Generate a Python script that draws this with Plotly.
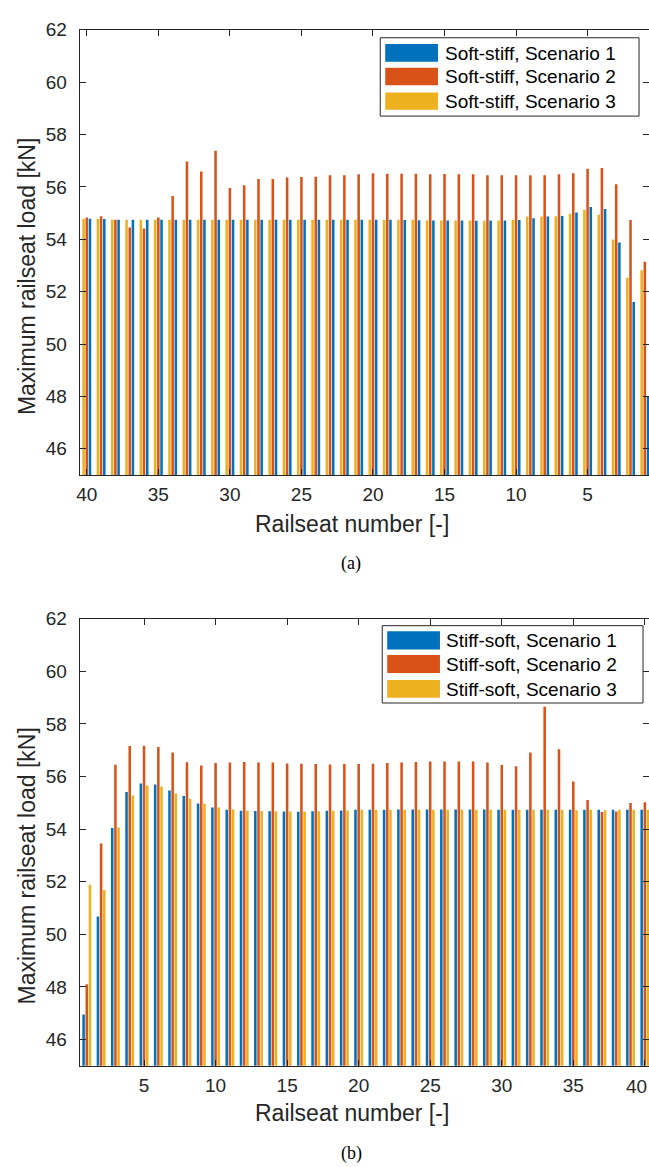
import plotly.graph_objects as go

# Railseat positions along the track
railseats = list(range(1, 41))

# Soft-stiff transition, maximum railseat load [kN] for railseats 1..40
soft_stiff_s1 = [48.00, 51.61, 53.88, 55.16, 55.23, 55.02, 54.89, 54.87, 54.80, 54.74,
                 54.72, 54.72, 54.71, 54.72, 54.72, 54.72, 54.73, 54.74, 54.75, 54.75,
                 54.75, 54.75, 54.75, 54.75, 54.75, 54.75, 54.75, 54.75, 54.75, 54.75,
                 54.75, 54.75, 54.75, 54.75, 54.75, 54.75, 54.75, 54.75, 54.78, 54.79]
soft_stiff_s2 = [53.14, 54.74, 56.10, 56.72, 56.69, 56.52, 56.48, 56.45, 56.45, 56.45,
                 56.45, 56.45, 56.48, 56.48, 56.49, 56.48, 56.50, 56.50, 56.50, 56.52,
                 56.48, 56.45, 56.45, 56.39, 56.38, 56.36, 56.30, 56.30, 56.06, 55.96,
                 57.38, 56.59, 56.97, 55.65, 54.83, 54.41, 54.45, 54.75, 54.88, 54.83]
soft_stiff_s3 = [52.82, 52.53, 53.99, 54.94, 55.13, 54.98, 54.88, 54.87, 54.87, 54.74,
                 54.72, 54.71, 54.72, 54.72, 54.72, 54.72, 54.75, 54.75, 54.75, 54.75,
                 54.75, 54.75, 54.75, 54.75, 54.75, 54.75, 54.75, 54.75, 54.75, 54.75,
                 54.75, 54.75, 54.75, 54.75, 54.75, 54.75, 54.75, 54.75, 54.78, 54.79]

# Stiff-soft transition, maximum railseat load [kN] for railseats 1..40
stiff_soft_s1 = [46.95, 50.68, 54.04, 55.41, 55.74, 55.70, 55.47, 55.26, 54.98, 54.82,
                 54.74, 54.70, 54.69, 54.68, 54.67, 54.66, 54.68, 54.70, 54.71, 54.74,
                 54.74, 54.74, 54.75, 54.75, 54.75, 54.75, 54.75, 54.75, 54.75, 54.74,
                 54.74, 54.74, 54.74, 54.74, 54.74, 54.74, 54.74, 54.74, 54.74, 54.74]
stiff_soft_s2 = [48.10, 53.45, 56.45, 57.16, 57.17, 57.12, 56.91, 56.54, 56.42, 56.52,
                 56.53, 56.55, 56.53, 56.53, 56.50, 56.49, 56.48, 56.46, 56.48, 56.48,
                 56.49, 56.52, 56.53, 56.55, 56.57, 56.57, 56.57, 56.57, 56.53, 56.44,
                 56.39, 56.91, 58.65, 57.04, 55.81, 55.11, 54.65, 54.67, 54.99, 55.02]
stiff_soft_s3 = [51.89, 51.69, 54.06, 55.28, 55.66, 55.62, 55.36, 55.16, 54.97, 54.82,
                 54.75, 54.70, 54.69, 54.68, 54.67, 54.66, 54.68, 54.70, 54.71, 54.74,
                 54.74, 54.74, 54.74, 54.74, 54.74, 54.74, 54.74, 54.74, 54.74, 54.74,
                 54.74, 54.74, 54.74, 54.74, 54.72, 54.74, 54.72, 54.74, 54.74, 54.74]

top_names = ["Soft-stiff, Scenario 1", "Soft-stiff, Scenario 2", "Soft-stiff, Scenario 3"]
bottom_names = ["Stiff-soft, Scenario 1", "Stiff-soft, Scenario 2", "Stiff-soft, Scenario 3"]
colors = ["#0072BD", "#D95319", "#EDB120"]

y_ticks = [46, 48, 50, 52, 54, 56, 58, 60, 62]
x_ticks = [5, 10, 15, 20, 25, 30, 35, 40]
x_labels = ["5", "10", "15", "20", "25", "30", "35", "40"]

W, H = 649, 1167
AX = "#262626"
FONT = "Liberation Sans, Arial, sans-serif"


def px(x):
    return x / W


def py(y):
    return 1 - y / H


fig = go.Figure()

for vals, name, col in zip([soft_stiff_s1, soft_stiff_s2, soft_stiff_s3], top_names, colors):
    fig.add_trace(go.Bar(x=railseats, y=vals, name=name, marker_color=col,
                         marker_line_width=0, xaxis="x", yaxis="y", showlegend=False))
for vals, name, col in zip([stiff_soft_s1, stiff_soft_s2, stiff_soft_s3], bottom_names, colors):
    fig.add_trace(go.Bar(x=railseats, y=vals, name=name, marker_color=col,
                         marker_line_width=0, xaxis="x2", yaxis="y2", showlegend=False))

axis_common = dict(
    showline=True, linecolor=AX, linewidth=1, ticks="inside", ticklen=6,
    tickcolor=AX, tickwidth=1, showgrid=False, zeroline=False,
    tickfont=dict(family=FONT, size=19, color=AX),
)

x_dom = [px(77), 1.0]
top_dom = [py(469), py(20)]
bot_dom = [py(1065), py(614)]

# On the lower panel the last label sits on the page edge; it is written
# separately below so it stays inside the page.
bottom_ticktext = x_labels[:-1] + [""]

fig.update_layout(
    width=W, height=H, margin=dict(l=0, r=0, t=0, b=0),
    paper_bgcolor="white", plot_bgcolor="white",
    barmode="group", bargap=1 / 3, bargroupgap=0.2,
    xaxis=dict(axis_common, domain=x_dom, anchor="y", range=[40.5, 0.5 + 3 / 14.38],
               tickvals=x_ticks, ticktext=x_labels, mirror="ticks", ticklabelstandoff=2),
    yaxis=dict(axis_common, domain=top_dom, anchor="x", range=[45, 62],
               tickvals=y_ticks, ticklabelstandoff=8),
    yaxis3=dict(axis_common, domain=top_dom, anchor="x", overlaying="y", side="right",
                range=[45, 62], tickvals=y_ticks, showline=False, showticklabels=False),
    xaxis2=dict(axis_common, domain=x_dom, anchor="y2", range=[0.5, 40.5 - 3 / 14.33],
                tickvals=x_ticks, ticktext=bottom_ticktext, mirror="ticks",
                ticklabelstandoff=2),
    yaxis2=dict(axis_common, domain=bot_dom, anchor="x2", range=[45, 62],
                tickvals=y_ticks, ticklabelstandoff=8),
    yaxis4=dict(axis_common, domain=bot_dom, anchor="x2", overlaying="y2", side="right",
                range=[45, 62], tickvals=y_ticks, showline=False, showticklabels=False),
)

# Invisible traces so the mirrored right-hand tick axes get drawn
fig.add_trace(go.Scatter(x=[None], y=[None], xaxis="x", yaxis="y3", showlegend=False,
                         hoverinfo="skip"))
fig.add_trace(go.Scatter(x=[None], y=[None], xaxis="x2", yaxis="y4", showlegend=False,
                         hoverinfo="skip"))

shapes = []
annotations = []

# Last tick label of the lower panel, flush with the right page edge
annotations.append(dict(text=x_labels[-1], x=1.0, y=py(1086), xref="paper", yref="paper",
                        showarrow=False, xanchor="right", yanchor="middle",
                        font=dict(family=FONT, size=19, color=AX)))

# Axis titles and panel captions
for cy_title, cy_x, cy_cap, cap in [(268.5, 518, 558, "(a)"), (863, 1113, 1153, "(b)")]:
    annotations.append(dict(text="Maximum railseat load [kN]", x=px(24), y=py(cy_title),
                            xref="paper", yref="paper", textangle=-90, showarrow=False,
                            xanchor="center", yanchor="middle",
                            font=dict(family=FONT, size=23, color=AX)))
    annotations.append(dict(text="Railseat number [-]", x=px(351), y=py(cy_x),
                            xref="paper", yref="paper", showarrow=False,
                            xanchor="center", yanchor="middle",
                            font=dict(family=FONT, size=23, color=AX)))
    annotations.append(dict(text=cap, x=px(350), y=py(cy_cap), xref="paper", yref="paper",
                            showarrow=False, xanchor="center", yanchor="middle",
                            font=dict(family="Liberation Serif, DejaVu Serif, serif",
                                      size=18, color="black")))

# Legend boxes
legends = [
    dict(box=(379, 28, 639, 107), patch_x=(384, 437),
         rows=[(34.3, 52.3, 43.5), (58.3, 76, 67.5), (83.3, 100.7, 92)],
         text_x=441.7, names=top_names),
    dict(box=(381, 621, 643, 699), patch_x=(386, 439),
         rows=[(626.7, 645, 636), (650.7, 668.7, 660), (675.7, 693.7, 685)],
         text_x=442.7, names=bottom_names),
]
for lg in legends:
    x0, y0, x1, y1 = lg["box"]
    shapes.append(dict(type="rect", xref="paper", yref="paper", x0=px(x0), x1=px(x1),
                       y0=py(y1), y1=py(y0), line=dict(color=AX, width=1),
                       fillcolor="white", layer="above"))
    for (ry0, ry1, ryc), name, col in zip(lg["rows"], lg["names"], colors):
        shapes.append(dict(type="rect", xref="paper", yref="paper",
                           x0=px(lg["patch_x"][0]), x1=px(lg["patch_x"][1]),
                           y0=py(ry1), y1=py(ry0), line=dict(width=0),
                           fillcolor=col, layer="above"))
        annotations.append(dict(text=name, x=px(lg["text_x"]), y=py(ryc), xref="paper",
                                yref="paper", showarrow=False, xanchor="left",
                                yanchor="middle",
                                font=dict(family=FONT, size=19, color="black")))

fig.update_layout(shapes=shapes, annotations=annotations)

fig.write_html("out.html")
